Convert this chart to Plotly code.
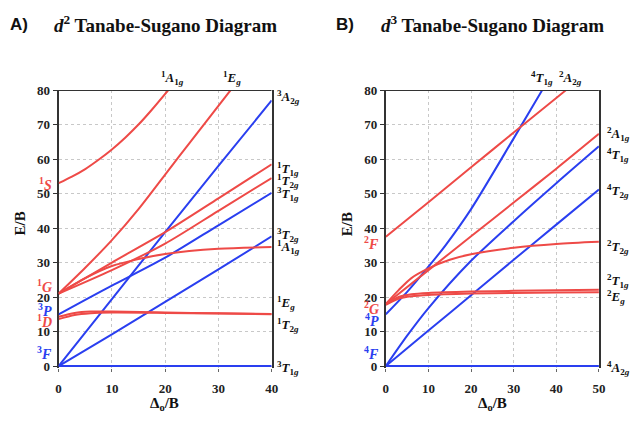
import plotly.graph_objects as go

W, H = 632, 423
RED = "#ee4a47"
BLUE = "#2a3ff0"
SERIF = "Liberation Serif"
SANS = "Liberation Sans"

# ---------------- d2 panel data (Delta_o/B, E/B) ----------------
d2_3T1gF_x = [0, 10, 20, 30, 40]
d2_3T1gF_y = [0, 0, 0, 0, 0]
d2_3T2g_x = [0, 10, 20, 30, 40]
d2_3T2g_y = [0, 9.2, 18.6, 28.0, 37.6]
d2_3A2g_x = [0, 10, 20, 30, 40]
d2_3A2g_y = [0, 19.4, 38.8, 58.0, 77.0]
d2_3T1gP_x = [0, 5, 10, 20, 30, 40]
d2_3T1gP_y = [15, 19.2, 23.3, 31.4, 40.8, 50.2]
d2_1EgD_x = [0, 3, 6, 10, 20, 30, 40]
d2_1EgD_y = [14.3, 15.4, 15.8, 15.8, 15.5, 15.3, 15.1]
d2_1T2gD_x = [0, 3, 6, 10, 20, 30, 40]
d2_1T2gD_y = [13.6, 14.8, 15.3, 15.5, 15.4, 15.2, 15.0]
d2_1A1gG_x = [0, 5, 10, 15, 20, 30, 40]
d2_1A1gG_y = [21, 25.5, 29.0, 31.0, 32.5, 34.0, 34.5]
d2_1T2gG_x = [0, 10, 20, 30, 40]
d2_1T2gG_y = [21, 27.8, 35.5, 45.0, 54.5]
d2_1T1gG_x = [0, 10, 20, 30, 40]
d2_1T1gG_y = [21, 30.0, 38.8, 48.6, 58.5]
d2_1EgG_x = [0, 5, 10, 15, 20, 25, 32.3]
d2_1EgG_y = [21, 28.5, 36.5, 45.5, 55.5, 65.5, 80]
d2_1A1gS_x = [0, 2.5, 5, 7.5, 10, 12.5, 15, 17.5, 20.6]
d2_1A1gS_y = [53, 54.9, 57.1, 59.8, 62.8, 66.2, 70.0, 74.3, 80]

# ---------------- d3 panel data ----------------
d3_4A2g_x = [0, 50]
d3_4A2g_y = [0, 0]
d3_4T2g_x = [0, 10, 20, 30, 40, 50]
d3_4T2g_y = [0, 10.3, 20.5, 30.8, 41.0, 51.2]
d3_4T1gF_x = [0, 5, 10, 20, 30, 40, 50]
d3_4T1gF_y = [0, 8.8, 16.8, 30.5, 42.0, 53.0, 63.7]
d3_4T1gP_x = [0, 5, 10, 14, 20, 30, 36.7]
d3_4T1gP_y = [15, 21.5, 28.8, 35.0, 45.5, 66.0, 80]
d3_2Eg_x = [0, 3, 6, 10, 20, 30, 40, 50]
d3_2Eg_y = [17.7, 19.5, 20.2, 20.6, 21.0, 21.2, 21.3, 21.4]
d3_2T1g_x = [0, 3, 6, 10, 20, 30, 40, 50]
d3_2T1g_y = [18, 20.0, 20.8, 21.2, 21.6, 21.8, 22.0, 22.1]
d3_2T2g_x = [0, 3, 6, 10, 15, 20, 30, 40, 50]
d3_2T2g_y = [18, 22.0, 25.5, 28.3, 30.8, 32.4, 34.3, 35.4, 36.0]
d3_2A1g_x = [0, 10, 20, 30, 40, 50]
d3_2A1g_y = [18, 27.8, 37.6, 47.4, 57.2, 67.3]
d3_2A2g_x = [0, 10, 20, 30, 42.3]
d3_2A2g_y = [37.5, 47.5, 57.6, 67.7, 80]

x_ticks_d2 = [0, 10, 20, 30, 40]
x_ticks_d3 = [0, 10, 20, 30, 40, 50]
y_ticks = [0, 10, 20, 30, 40, 50, 60, 70, 80]

d2_curves = [
    (d2_3T1gF_x, d2_3T1gF_y, BLUE), (d2_3T2g_x, d2_3T2g_y, BLUE),
    (d2_3A2g_x, d2_3A2g_y, BLUE), (d2_3T1gP_x, d2_3T1gP_y, BLUE),
    (d2_1EgD_x, d2_1EgD_y, RED), (d2_1T2gD_x, d2_1T2gD_y, RED),
    (d2_1A1gG_x, d2_1A1gG_y, RED), (d2_1T2gG_x, d2_1T2gG_y, RED),
    (d2_1T1gG_x, d2_1T1gG_y, RED), (d2_1EgG_x, d2_1EgG_y, RED),
    (d2_1A1gS_x, d2_1A1gS_y, RED),
]
d3_curves = [
    (d3_4A2g_x, d3_4A2g_y, BLUE), (d3_4T2g_x, d3_4T2g_y, BLUE),
    (d3_4T1gF_x, d3_4T1gF_y, BLUE), (d3_4T1gP_x, d3_4T1gP_y, BLUE),
    (d3_2Eg_x, d3_2Eg_y, RED), (d3_2T1g_x, d3_2T1g_y, RED),
    (d3_2T2g_x, d3_2T2g_y, RED), (d3_2A1g_x, d3_2A1g_y, RED),
    (d3_2A2g_x, d3_2A2g_y, RED),
]

fig = go.Figure()
for xs, ys, c in d2_curves:
    fig.add_trace(go.Scatter(x=xs, y=ys, mode="lines",
                             line=dict(color=c, width=2, shape="spline", smoothing=0.8),
                             xaxis="x", yaxis="y", showlegend=False, hoverinfo="skip"))
for xs, ys, c in d3_curves:
    fig.add_trace(go.Scatter(x=xs, y=ys, mode="lines",
                             line=dict(color=c, width=2, shape="spline", smoothing=0.8),
                             xaxis="x2", yaxis="y2", showlegend=False, hoverinfo="skip"))


def px(xp):
    return xp / W


def py(yp):
    return 1 - yp / H


ydom = [(H - 372) / H, (H - 85.5) / H]
tickfont = dict(family=SERIF, size=13, color="#222", weight="bold")
axis_common = dict(showgrid=True, gridcolor="#c8c8c8", griddash="dot", gridwidth=1,
                   zeroline=False, tickfont=tickfont, layer="below traces")

fig.update_layout(
    width=W, height=H, margin=dict(l=0, r=0, t=0, b=0),
    paper_bgcolor="white", plot_bgcolor="white",
    font=dict(family=SERIF),
    xaxis=dict(domain=[56.5 / W, 273 / W], range=[0, 40], tickvals=x_ticks_d2,
               showline=False, ticks="outside", ticklen=3, tickcolor="#666",
               ticklabelstandoff=5, anchor="y", **axis_common),
    yaxis=dict(domain=ydom, range=[-0.7, 80], tickvals=y_ticks, showline=True, mirror=True,
               linecolor="#333", linewidth=2, ticks="outside", ticklen=4, tickcolor="#333",
               anchor="x", **axis_common),
    xaxis2=dict(domain=[389 / W, 605.5 / W], range=[0, 50], tickvals=x_ticks_d3,
                showline=False, ticks="outside", ticklen=3, tickcolor="#666",
                ticklabelstandoff=5, anchor="y2", **axis_common),
    yaxis2=dict(domain=ydom, range=[-0.7, 80], tickvals=y_ticks, showline=True, mirror=True,
                linecolor="#333", linewidth=2, ticks="outside", ticklen=4, tickcolor="#333",
                anchor="x2", **axis_common),
)

# top borders
fig.add_shape(type="line", xref="x", yref="y", x0=0, x1=40, y0=80, y1=80,
              line=dict(color="#333", width=2), layer="above")
fig.add_shape(type="line", xref="x2", yref="y2", x0=0, x1=50, y0=80, y1=80,
              line=dict(color="#333", width=2), layer="above")


def term(mult, L, sub=""):
    s = "<sup>%s</sup><i>%s</i>" % (mult, L)
    s += "<sub>%s<i>g</i></sub>" % sub
    return "<b>" + s + "</b>"


def free(mult, L):
    return "<b><sup>%s</sup><i>%s</i></b>" % (mult, L)


def ann(text, x, y, size, color="#111", xanchor="center", family=SERIF, angle=0):
    fig.add_annotation(text=text, x=px(x), y=py(y), xref="paper", yref="paper",
                       xanchor=xanchor, yanchor="middle", showarrow=False, textangle=angle,
                       font=dict(family=family, size=size, color=color))


# panel titles
ann("<b>A)</b>", 16, 18, 17, family=SANS)
ann("<b><i>d</i><sup>2</sup> Tanabe-Sugano Diagram</b>", 165, 18, 19)
ann("<b>B)</b>", 347, 18, 17, family=SANS)
ann("<b><i>d</i><sup>3</sup> Tanabe-Sugano Diagram</b>", 497, 18, 19)

# axis titles
ann("<b>E/B</b>", 17, 223, 15, angle=-90)
ann("<b>E/B</b>", 349, 223, 15, angle=-90)
ann("<b>Δ<sub>o</sub>/B</b>", 164, 409, 15)
ann("<b>Δ<sub>o</sub>/B</b>", 497, 409, 15)

# free-ion terms (left side)
left_terms_d2 = [("1", "S", 181.7, RED), ("1", "G", 287, RED), ("3", "P", 312, BLUE),
                 ("1", "D", 323, RED), ("3", "F", 356, BLUE)]
for m, L, yy, c in left_terms_d2:
    ann(free(m, L), 52, yy, 14, color=c, xanchor="right")
left_terms_d3 = [("2", "F", 243, RED), ("2", "G", 310, RED), ("4", "P", 322, BLUE),
                 ("4", "F", 356, BLUE)]
for m, L, yy, c in left_terms_d3:
    ann(free(m, L), 384, yy, 14, color=c, xanchor="right")

# right-side state labels
right_d2 = [("3", "A", "2", 93), ("1", "T", "1", 167), ("1", "T", "2", 179), ("3", "T", "1", 192),
            ("3", "T", "2", 235), ("1", "A", "1", 247), ("1", "E", "", 305), ("1", "T", "2", 327),
            ("3", "T", "1", 372)]
for m, L, s, yy in right_d2:
    ann(term(m, L, s), 276, yy, 13, xanchor="left")
right_d3 = [("2", "A", "1", 131), ("4", "T", "1", 152), ("4", "T", "2", 189), ("2", "T", "2", 247),
            ("2", "T", "1", 282), ("2", "E", "", 298), ("4", "A", "2", 372)]
for m, L, s, yy in right_d3:
    ann(term(m, L, s), 612, yy, 13, xanchor="left")

# top labels
ann(term("1", "A", "1"), 172, 73, 13)
ann(term("1", "E", ""), 233, 73, 13)
ann(term("4", "T", "1"), 548, 73, 13)
ann(term("2", "A", "2"), 577, 73, 13)

fig.write_html("out.html")
